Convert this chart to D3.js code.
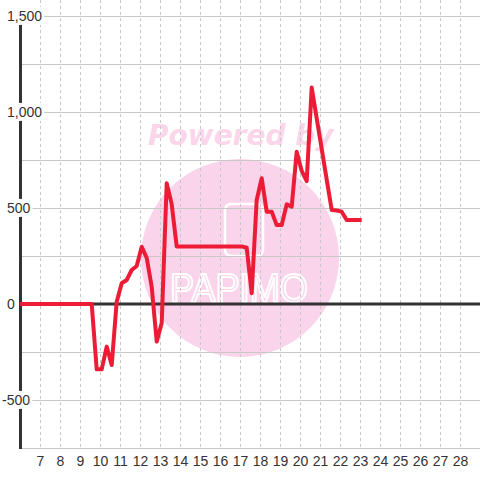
<html>
<head>
    <meta charset="UTF-8">
    <title>line chart</title>
    <script src="https://cdn.jsdelivr.net/npm/d3@7/dist/d3.min.js"></script>
    <style>
        body { margin: 0; background: #fff; }
    </style>
</head>
<body>
    <svg id="mySvg" width="480" height="480"></svg>
    <script>
        // x = day value, y = amount (only the corners of the line)
        var xValues = [6, 9.585, 9.835, 10.085, 10.335, 10.585, 10.835, 11.085, 11.335, 11.585, 11.835,
            12.085, 12.335, 12.585, 12.835, 13.085, 13.335, 13.585, 13.835, 17.085, 17.335, 17.585,
            17.835, 18.085, 18.335, 18.585, 18.835, 19.085, 19.335, 19.585, 19.835, 20.085, 20.335,
            20.585, 20.835, 21.085, 21.335, 21.585, 21.835, 22.085, 22.335, 23.085];
        var yValues = [0, 0, -340, -340, -222, -318, 12, 108, 125, 177, 198,
            298, 240, 90, -196, -99, 629, 520, 300, 300, 293, 56,
            542, 655, 481, 481, 411, 411, 519, 507, 793, 693, 640,
            1127, 967, 808, 648, 490, 487, 481, 437, 437];
        var xTicks = [7, 8, 9, 10, 11, 12, 13, 14, 15, 16, 17, 18, 19, 20, 21, 22, 23, 24, 25, 26, 27, 28];
        var yTicks = [-500, 0, 500, 1000, 1500];
        var yTickLabels = ["-500", "0", "500", "1,000", "1,500"];
        var yGrid = [-750, -500, -250, 250, 500, 750, 1000, 1250, 1500];

        var svg = d3.select("#mySvg");
        var x = d3.scaleLinear().domain([6, 29]).range([20, 480]);
        var y = d3.scaleLinear().domain([-750, 1500]).range([448, 16]);

        // watermark
        var wm = svg.append("g");
        wm.append("circle")
            .attr("cx", 240).attr("cy", 258).attr("r", 99)
            .attr("fill", "#fad4ea");
        wm.append("text")
            .attr("x", 148).attr("y", 145)
            .style("font-family", "DejaVu Sans")
            .style("font-weight", "bold")
            .style("font-style", "italic")
            .style("font-size", "28px")
            .attr("fill", "#fbd6ea")
            .text("Powered by");
        wm.append("rect")
            .attr("x", 225).attr("y", 204).attr("width", 38).attr("height", 52).attr("rx", 6)
            .attr("fill", "none").attr("stroke", "#fff").attr("stroke-width", 2.5);
        wm.append("text")
            .attr("x", 170).attr("y", 302)
            .attr("textLength", 138)
            .attr("lengthAdjust", "spacingAndGlyphs")
            .style("font-family", "Liberation Sans")
            .style("font-size", "40px")
            .attr("fill", "none").attr("stroke", "#fff").attr("stroke-width", 2)
            .text("PAPIMO");

        // vertical dashed grid
        svg.append("g").selectAll("line")
            .data(xTicks)
            .enter().append("line")
            .attr("x1", function (d) { return x(d) + 0.5; })
            .attr("x2", function (d) { return x(d) + 0.5; })
            .attr("y1", 0).attr("y2", 448)
            .attr("stroke", "#c8c8c8")
            .attr("stroke-dasharray", "3,3");

        // horizontal grid
        svg.append("g").selectAll("line")
            .data(yGrid)
            .enter().append("line")
            .attr("x1", 20).attr("x2", 480)
            .attr("y1", function (d) { return Math.round(y(d)) + 0.5; })
            .attr("y2", function (d) { return Math.round(y(d)) + 0.5; })
            .attr("stroke", "#c8c8c8");

        // y axis bar and zero line
        svg.append("line")
            .attr("x1", 20.5).attr("x2", 20.5).attr("y1", 16).attr("y2", 449)
            .attr("stroke", "#333").attr("stroke-width", 3);
        svg.append("line")
            .attr("x1", 20).attr("x2", 480).attr("y1", y(0)).attr("y2", y(0))
            .attr("stroke", "#333").attr("stroke-width", 3);

        // y labels with white background
        var yl = svg.append("g").selectAll("g")
            .data(yTicks)
            .enter().append("g");
        yl.append("rect").attr("fill", "#fff");
        yl.append("text")
            .attr("x", function (d) { return d < 0 ? 2 : 7; })
            .attr("y", function (d) { return y(d); })
            .attr("dy", "0.35em")
            .style("font-family", "Liberation Sans, Arial, sans-serif")
            .style("font-size", "14px")
            .attr("fill", "#333")
            .text(function (d, i) { return yTickLabels[i]; });
        yl.each(function () {
            var g = d3.select(this);
            var b = g.select("text").node().getBBox();
            g.select("rect")
                .attr("x", b.x - 2).attr("y", b.y - 1)
                .attr("width", b.width + 4).attr("height", b.height + 2);
        });

        // x axis labels
        var xAxis = svg.append("g")
            .attr("transform", "translate(0,448)")
            .call(d3.axisBottom(x).tickValues(xTicks).tickSize(0).tickPadding(8));
        xAxis.select(".domain").remove();
        xAxis.selectAll("text")
            .style("font-family", "Liberation Sans, Arial, sans-serif")
            .style("font-size", "14px")
            .attr("fill", "#333");

        // data line
        var line = d3.line()
            .x(function (d) { return x(d); })
            .y(function (d, i) { return y(yValues[i]); });
        svg.append("path")
            .attr("d", line(xValues))
            .attr("fill", "none")
            .attr("stroke", "#ed1c36")
            .attr("stroke-width", 4)
            .attr("stroke-linejoin", "round");
    </script>
</body>
</html>
